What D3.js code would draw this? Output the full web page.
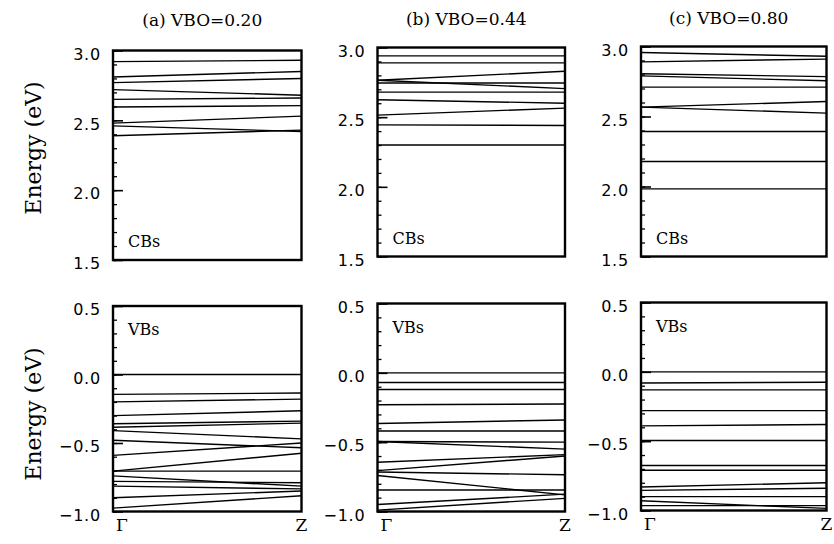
<!DOCTYPE html>
<html>
<head>
<meta charset="utf-8">
<script src="https://cdn.jsdelivr.net/npm/d3@7"></script>
<style>
  body { margin: 0; background: #fff; }
  svg { display: block; }
</style>
</head>
<body>
<script>
// k-points along the x axis
var kPoints = ["Γ", "Z"];

var titles = ["(a) VBO=0.20", "(b) VBO=0.44", "(c) VBO=0.80"];

// conduction subbands, energy at Γ and at Z (eV)
var cbA = [[2.92, 2.93], [2.81, 2.85], [2.77, 2.80], [2.72, 2.68], [2.65, 2.66],
           [2.595, 2.605], [2.48, 2.53], [2.46, 2.42], [2.39, 2.43]];
var cbB = [[2.94, 2.94], [2.89, 2.89], [2.765, 2.83], [2.765, 2.705], [2.745, 2.745],
           [2.68, 2.68], [2.625, 2.60], [2.515, 2.565], [2.445, 2.44], [2.30, 2.30]];
var cbC = [[2.957, 2.93], [2.89, 2.91], [2.805, 2.785], [2.79, 2.755], [2.71, 2.71],
           [2.567, 2.607], [2.567, 2.524], [2.393, 2.393], [2.179, 2.179], [1.983, 1.983]];

// valence subbands
var vbA = [[0.0, 0.0], [-0.145, -0.135], [-0.20, -0.18], [-0.30, -0.265], [-0.36, -0.34],
           [-0.385, -0.355], [-0.41, -0.47], [-0.48, -0.535], [-0.59, -0.50], [-0.705, -0.575],
           [-0.705, -0.705], [-0.74, -0.815], [-0.78, -0.79], [-0.815, -0.835],
           [-0.90, -0.85], [-0.975, -0.885]];
var vbB = [[0.0, 0.0], [-0.07, -0.07], [-0.12, -0.12], [-0.23, -0.225], [-0.365, -0.34],
           [-0.42, -0.42], [-0.495, -0.50], [-0.495, -0.55], [-0.645, -0.59], [-0.705, -0.60],
           [-0.715, -0.735], [-0.74, -0.88], [-0.845, -0.845], [-0.95, -0.875], [-0.99, -0.905]];
var vbC = [[0.0, 0.0], [-0.08, -0.075], [-0.13, -0.13], [-0.28, -0.28], [-0.39, -0.38],
           [-0.495, -0.495], [-0.675, -0.675], [-0.71, -0.71], [-0.83, -0.80], [-0.855, -0.84],
           [-0.90, -0.90], [-0.93, -0.985], [-0.965, -0.965]];

var cbTicks = [1.5, 2.0, 2.5, 3.0];
var vbTicks = [-1.0, -0.5, 0.0, 0.5];
var cbDomain = [1.5, 3.0];
var vbDomain = [-1.0, 0.5];

// page geometry (the scan is slightly skewed, so each column has its own edges)
var colLeft = [113, 377.5, 641],
    colRight = [301.5, 565, 826.5],
    topRowTop = [50.5, 47.5, 46.5],
    topRowBottom = [260, 256.5, 256.5],
    botRowTop = [306, 303.5, 302.5],
    botRowBottom = [511.5, 511.5, 510.5];

var serif = "'DejaVu Serif', serif",
    sans = "'DejaVu Sans', sans-serif";

var svg = d3.select("body").append("svg")
    .attr("width", 834)
    .attr("height", 544);


function drawPanel(col, bands, domain, ticks, top, bottom, tag, showK) {
  var x = d3.scalePoint().domain(kPoints).range([colLeft[col], colRight[col]]);
  var y = d3.scaleLinear().domain(domain).range([bottom, top]);

  var g = svg.append("g");

  // bands
  var line = d3.line()
      .x(function(d, i) { return x(kPoints[i]); })
      .y(function(d) { return y(d); });
  g.selectAll("path.band")
    .data(bands)
    .enter().append("path")
      .attr("class", "band")
      .attr("d", line)
      .style("fill", "none")
      .style("stroke", "#000")
      .style("stroke-width", 1.4);

  // minor ticks every 0.1
  var minor = d3.range(Math.round(domain[0] * 10), Math.round(domain[1] * 10) + 1)
      .map(function(v) { return v / 10; });
  g.append("g")
      .attr("transform", "translate(" + colLeft[col] + ",0)")
      .call(d3.axisLeft(y).tickValues(minor).tickSize(-4).tickFormat(""))
      .call(function(a) { a.select(".domain").remove(); })
      .selectAll("line").style("stroke-width", 1.3);

  // major ticks + labels
  var ax = g.append("g")
      .attr("transform", "translate(" + colLeft[col] + ",0)")
      .call(d3.axisLeft(y).tickValues(ticks).tickSizeInner(-10).tickSizeOuter(0)
            .tickPadding(12).tickFormat(d3.format(".1f")));
  ax.select(".domain").remove();
  ax.selectAll("line").style("stroke-width", 1.6);
  ax.selectAll("text")
      .style("font-family", sans)
      .style("font-size", "16px")
      .style("letter-spacing", "0.8px")
      .attr("dy", "0.55em")
      .style("fill", "#000");

  // frame
  g.append("rect")
      .attr("x", colLeft[col])
      .attr("y", top)
      .attr("width", colRight[col] - colLeft[col])
      .attr("height", bottom - top)
      .style("fill", "none")
      .style("stroke", "#000")
      .style("stroke-width", 2.4);

  // CBs / VBs tag
  g.append("text")
      .attr("x", colLeft[col] + 15)
      .attr("y", tag == "CBs" ? bottom - 13 : top + 29)
      .style("font-family", serif)
      .style("font-size", "16px")
      .text(tag);

  if (showK) {
    g.append("text")
        .attr("x", x("Γ") + 3)
        .attr("y", bottom + 19)
        .style("font-family", serif)
        .style("font-size", "17px")
        .text("Γ");
    g.append("text")
        .attr("x", x("Z"))
        .attr("y", bottom + 19)
        .attr("text-anchor", "middle")
        .style("font-family", serif)
        .style("font-size", "17px")
        .text("Z");
  }
}


var cbSets = [cbA, cbB, cbC],
    vbSets = [vbA, vbB, vbC];

for (var c = 0; c < 3; c++) {
  drawPanel(c, cbSets[c], cbDomain, cbTicks, topRowTop[c], topRowBottom[c], "CBs", false);
  drawPanel(c, vbSets[c], vbDomain, vbTicks, botRowTop[c], botRowBottom[c], "VBs", true);

  // Title
  svg.append("text")
      .attr("x", (colLeft[c] + colRight[c]) / 2 - 5)
      .attr("y", 26 - c)
      .attr("text-anchor", "middle")
      .style("font-family", serif)
      .style("font-size", "17px")
      .text(titles[c]);
}

// y axis titles
[148, 414].forEach(function(cy) {
  svg.append("text")
      .attr("transform", "translate(41," + cy + ") rotate(-90)")
      .attr("text-anchor", "middle")
      .style("font-family", serif)
      .style("font-size", "22px")
      .text("Energy (eV)");
});
</script>
</body>
</html>
